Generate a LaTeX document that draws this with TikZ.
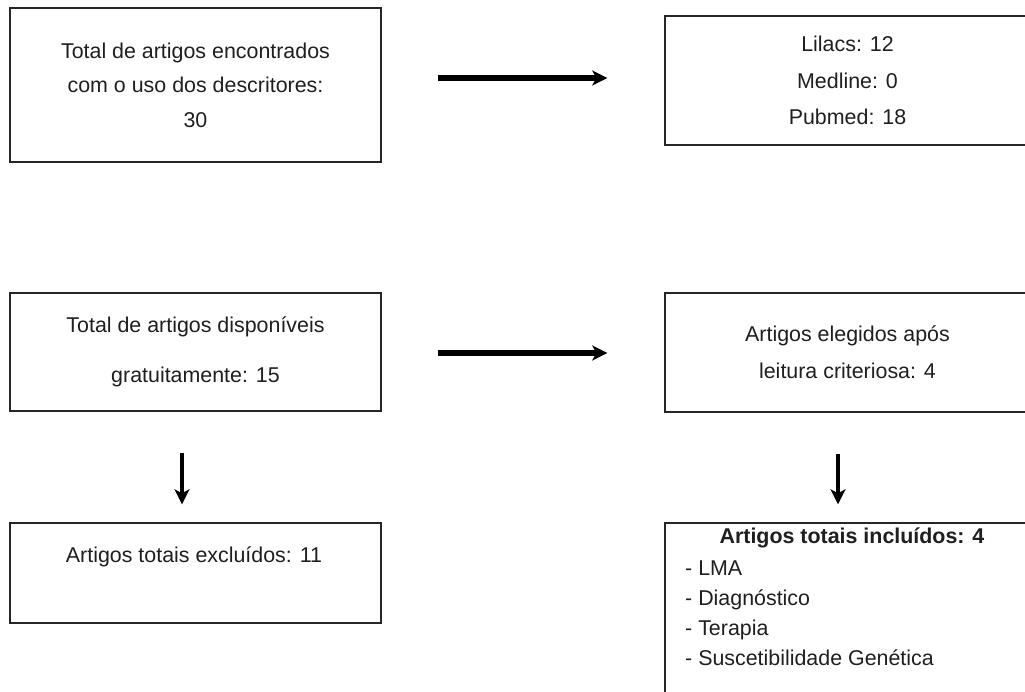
\documentclass[tikz,border=0pt]{standalone}
\usepackage{fontspec}
\setmainfont{Liberation Sans}
\usetikzlibrary{arrows.meta}
\begin{document}
\begin{tikzpicture}[x=1pt,y=-1pt,
  box/.style={draw=black!85, line width=1.4pt, rectangle, inner sep=0pt, align=center, text=black!88},
  txt/.style={inner sep=0pt, text=black!88},
  arr/.style={line width=5.3pt, -{Stealth[length=15pt,width=15pt,inset=4pt]}}]
\clip (0,0) rectangle (1025,692);
\fill[white] (0,0) rectangle (1025,692);
% top row
\node[box, minimum width=371pt, minimum height=154pt, font=\fontsize{21.4}{34.5}\selectfont] (b1) at (195.5,85)
  {Total de artigos encontrados\\com o uso dos descritores:\\30};
\node[box, minimum width=365pt, minimum height=129pt, font=\fontsize{21.4}{36.5}\selectfont] (b2) at (847.5,80.5)
  {Lilacs: 12\\Medline: 0\\Pubmed: 18};
% middle row
\node[box, minimum width=371pt, minimum height=118pt, font=\fontsize{21.4}{50}\selectfont] (b3) at (195.5,352)
  {Total de artigos disponíveis\\gratuitamente: 15};
\node[box, minimum width=365pt, minimum height=119pt, font=\fontsize{21.4}{37}\selectfont] (b4) at (847.5,352.5)
  {Artigos elegidos após\\leitura criteriosa: 4};
% bottom row
\node[box, minimum width=371pt, minimum height=100pt] (b5) at (195.5,573) {};
\node[txt, font=\fontsize{21.4}{25}\selectfont] (t5) at (194,557) {Artigos totais excluídos: 11};
\node[box, minimum width=365pt, minimum height=200pt] (b6) at (847.5,623) {};
\node[txt, font=\fontsize{21.4}{25}\selectfont\bfseries] (t6) at (852,538) {Artigos totais incluídos: 4};
\node[txt, anchor=north west, align=left, font=\fontsize{21.4}{30}\selectfont] (l6) at (685,560.5)
  {- LMA\\- Diagnóstico\\- Terapia\\- Suscetibilidade Genética};
% arrows
\draw[arr, shorten <=56pt, shorten >=57pt] (b1.east |- 0,78) -- (b2.west |- 0,78);
\draw[arr, shorten <=56pt, shorten >=57pt] (b3.east |- 0,353) -- (b4.west |- 0,353);
\draw[arr, line width=4.5pt, shorten <=41pt, shorten >=18pt] (182,0 |- b3.south) -- (182,0 |- b5.north);
\draw[arr, line width=4.5pt, shorten <=41pt, shorten >=18pt] (838,0 |- b4.south) -- (838,0 |- b6.north);
\end{tikzpicture}
\end{document}
